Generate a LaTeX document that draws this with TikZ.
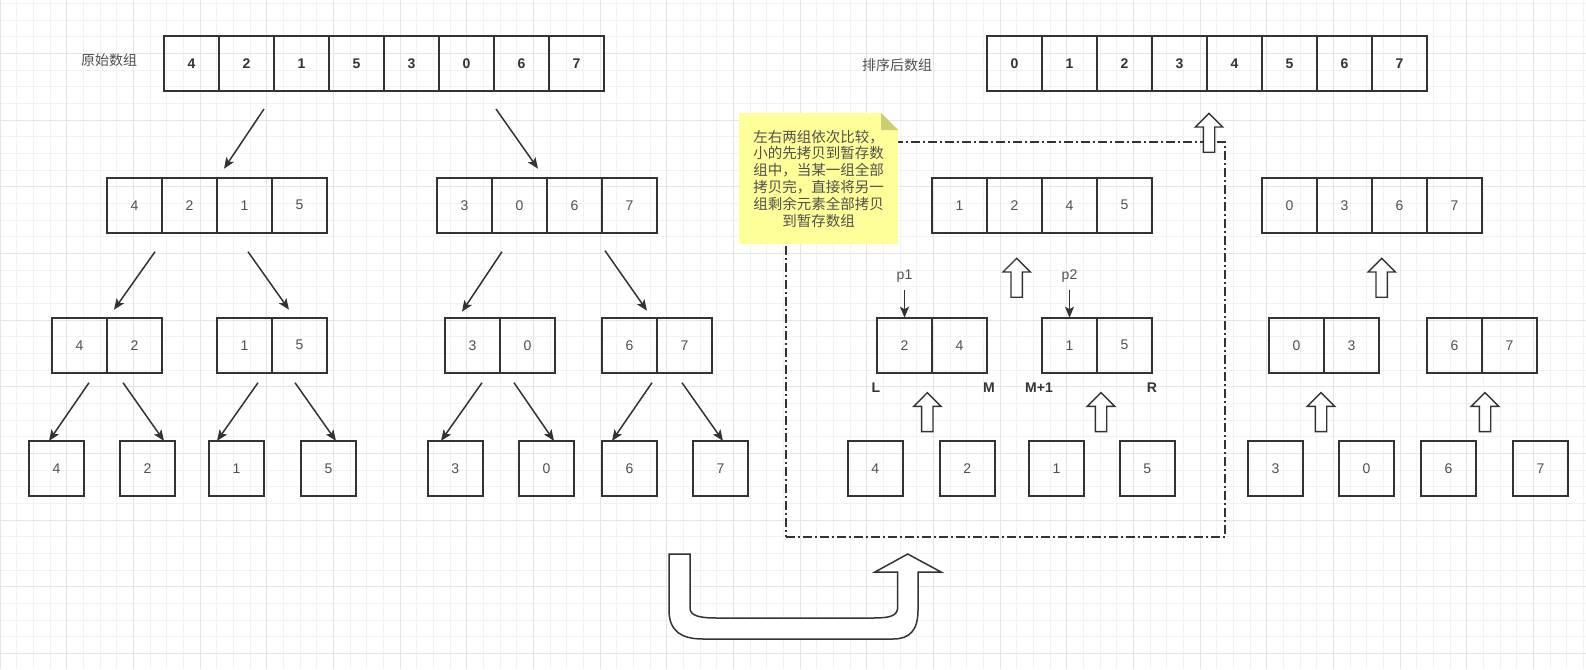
\documentclass[tikz,border=0pt]{standalone}
\usepackage{fontspec}
\setmainfont{Liberation Sans}
\newfontfamily\cjk{Noto Sans CJK SC}
\usetikzlibrary{arrows.meta}
\usetikzlibrary{positioning}
\usetikzlibrary{shapes.arrows}

\definecolor{boxgray}{RGB}{51,51,51}
\definecolor{numgray}{RGB}{80,80,80}
\definecolor{noteyellow}{RGB}{255,255,153}
\definecolor{notefold}{RGB}{205,205,115}
\definecolor{gridminor}{RGB}{242,242,242}
\definecolor{gridmajor}{RGB}{229,229,229}

\tikzset{
  cell/.style={draw=boxgray, line width=1.6pt, minimum size=55pt, inner sep=0pt, outer sep=0pt, text=numgray, font=\fontsize{14}{17}\selectfont},
  boldcell/.style={cell, text=boxgray, font=\fontsize{14}{17}\selectfont\bfseries},
  splitarrow/.style={draw=boxgray, line width=1.5pt, -{Stealth[length=11pt, width=9pt, inset=2.5pt]}},
  hollowup/.style={single arrow, draw=boxgray, fill=white, line width=1.4pt, rotate=90, anchor=tip, minimum height=39pt, inner xsep=0pt, inner ysep=5pt, single arrow head extend=8pt},
  mergeframe/.style={draw=boxgray, line width=1.5pt, dash pattern=on 9pt off 3pt on 2pt off 3pt, inner sep=0pt},
  arraylabel/.style={text=numgray, font=\cjk\fontsize{14}{16}\selectfont},
  notetext/.style={text=numgray, align=center, inner sep=0pt, font=\cjk\fontsize{14.5}{16.8}\selectfont},
  ptrlabel/.style={text=numgray, inner sep=0pt, font=\fontsize{14}{17}\selectfont},
  boundlabel/.style={text=boxgray, inner sep=0pt, font=\fontsize{14}{17}\selectfont\bfseries},
}

\begin{document}
\begin{tikzpicture}[x=1pt, y=-1pt]
  \useasboundingbox (0,0) rectangle (1586,669);
  \fill [white] (0,0) rectangle (1586,669);

  % canvas grid
  \foreach \k in {0,...,95}
    \draw [gridminor, line width=0.9pt] ({16.667*\k},0) -- ({16.667*\k},669);
  \foreach \k in {0,...,40}
    \draw [gridminor, line width=0.9pt] (0,{3.33+16.667*\k}) -- (1586,{3.33+16.667*\k});
  \foreach \k in {0,...,23}
    \draw [gridmajor, line width=0.9pt] ({66.667*\k},0) -- ({66.667*\k},669);
  \foreach \k in {0,...,10}
    \draw [gridmajor, line width=0.9pt] (0,{-13.33+66.667*\k}) -- (1586,{-13.33+66.667*\k});

  % splitting
  \node[arraylabel] (origlabel) at (109,60) {原始数组};
  \foreach \v [count=\i] in {4,2,1,5,3,0,6,7}
    \node[boldcell] (orig\i) at ({136.5+55*\i},63.5) {\v};

  \foreach \v [count=\i] in {4,2,1,5}
    \node[cell] (halfa\i) at ({79.5+55*\i},205.2) {\v};
  \foreach \v [count=\i] in {3,0,6,7}
    \node[cell] (halfb\i) at ({409.5+55*\i},205.2) {\v};

  \foreach \n/\x/\a/\b in {qa/79.5/4/2, qb/244.5/1/5, qc/472.5/3/0, qd/629.5/6/7} {
    \node[cell] (\n1) at (\x,345.2) {\a};
    \node[cell, right=0pt of \n1] (\n2) {\b};
  }

  \foreach \n/\x/\v in {sa/56.5/4, sb/147.5/2, sc/236.5/1, sd/328.5/5, se/455.2/3, sf/546.5/0, sg/629.5/6, sh/720.5/7}
    \node[cell] (\n) at (\x,468.4) {\v};

  \draw [splitarrow] ([shift={(17.5,18)}]orig2.south) -- ([shift={(7,-9)}]halfa2.north east);
  \draw [splitarrow] ([shift={(2,18)}]orig6.south east) -- ([shift={(-9,-9)}]halfb2.north east);

  \draw [splitarrow] ([shift={(-7,19)}]halfa1.south east) -- ([shift={(7,-8)}]qa1.north east);
  \draw [splitarrow] ([shift={(3.5,19)}]halfa3.south) -- ([shift={(-10.5,-8)}]qb2.north);
  \draw [splitarrow] ([shift={(-17.5,19)}]halfb2.south) -- ([shift={(-10.5,-6)}]qc1.north);
  \draw [splitarrow] ([shift={(3,18)}]halfb4.south west) -- ([shift={(-10,-7)}]qd2.north west);

  \draw [splitarrow] ([shift={(9.5,10)}]qa1.south) -- ([shift={(-7.5,0)}]sa.north);
  \draw [splitarrow] ([shift={(-11.5,10)}]qa2.south) -- ([shift={(16.5,0)}]sb.north);
  \draw [splitarrow] ([shift={(13.5,10)}]qb1.south) -- ([shift={(-19.5,0)}]sc.north);
  \draw [splitarrow] ([shift={(-4.5,10)}]qb2.south) -- ([shift={(7.5,0)}]sd.north);
  \draw [splitarrow] ([shift={(9.5,10)}]qc1.south) -- ([shift={(-14.2,0)}]se.north);
  \draw [splitarrow] ([shift={(-13.5,10)}]qc2.south) -- ([shift={(7.5,0)}]sf.north);
  \draw [splitarrow] ([shift={(22.5,10)}]qd1.south) -- ([shift={(-17.5,0)}]sg.north);
  \draw [splitarrow] ([shift={(-2.5,10)}]qd2.south) -- ([shift={(2.5,0)}]sh.north);

  % from the split side over to the merge side
  \draw [draw=boxgray, line width=1.5pt, fill=white]
    (669,554) -- (669,610) .. controls (669,630) and (680,639) .. (703,639)
    -- (893,639) .. controls (910,639) and (918,630) .. (918,610)
    -- (918,572) -- (941,572) -- (907.7,554) -- (875,572) -- (897.7,572)
    -- (897.7,607) .. controls (897.7,616) and (890,618) .. (873,618)
    -- (717,618) .. controls (700,618) and (690,616) .. (690,608)
    -- (690,554) -- cycle;

  % merging
  \node[mergeframe, minimum width=439pt, minimum height=395pt] (mergebox) at (1005.5,339.5) {};

  \fill [noteyellow] (739,113) -- (881,113) -- (898,130) -- (898,244) -- (739,244) -- cycle;
  \fill [notefold] (881,113) -- (898,130) -- (881,130) -- cycle;
  \node[notetext] (note) at (818.5,178.5) {左右两组依次比较，\\小的先拷贝到暂存数\\组中，当某一组全部\\拷贝完，直接将另一\\组剩余元素全部拷贝\\到暂存数组};

  \node[arraylabel] (sortedlabel) at (897,65) {排序后数组};
  \foreach \v [count=\i] in {0,...,7}
    \node[boldcell] (sorted\i) at ({959.5+55*\i},63.5) {\v};

  \foreach \v [count=\i] in {1,2,4,5}
    \node[cell] (mergea\i) at ({904.5+55*\i},205.2) {\v};
  \foreach \v [count=\i] in {0,3,6,7}
    \node[cell] (mergeb\i) at ({1234.5+55*\i},205.2) {\v};

  \foreach \n/\x/\a/\b in {pa/904.5/2/4, pb/1069.5/1/5, pc/1296.5/0/3, pd/1454.5/6/7} {
    \node[cell] (\n1) at (\x,345.2) {\a};
    \node[cell, right=0pt of \n1] (\n2) {\b};
  }

  \foreach \n/\x/\v in {ta/875.3/4, tb/967.3/2, tc/1056.5/1, td/1147.2/5, te/1275.5/3, tf/1366.5/0, tg/1448.5/6, th/1540.5/7}
    \node[cell] (\n) at (\x,468.4) {\v};

  \node[ptrlabel, above=35pt of pa1] (p1) {p1};
  \node[ptrlabel, above=35pt of pb1] (p2) {p2};
  \draw [splitarrow, shorten <=7pt] (p1.south) -- (pa1.north);
  \draw [splitarrow, shorten <=7pt] (p2.south) -- (pb1.north);

  \node[boundlabel] (lmark) at ([shift={(-1,15)}]pa1.south west) {L};
  \node[boundlabel] (mmark) at ([shift={(2,15)}]pa2.south east) {M};
  \node[boundlabel] (m1mark) at ([shift={(-3,15)}]pb1.south west) {M+1};
  \node[boundlabel] (rmark) at ([shift={(0,15)}]pb2.south east) {R};

  \node[hollowup] (up1) at (1209,112.3) {};
  \node[hollowup] (up2) at (1016.7,257.3) {};
  \node[hollowup] (up3) at (927.3,391.7) {};
  \node[hollowup] (up4) at (1101,391.7) {};
  \node[hollowup] (up5) at (1381.7,257.3) {};
  \node[hollowup] (up6) at (1321,391.7) {};
  \node[hollowup] (up7) at (1485,391.7) {};

\end{tikzpicture}
\end{document}
